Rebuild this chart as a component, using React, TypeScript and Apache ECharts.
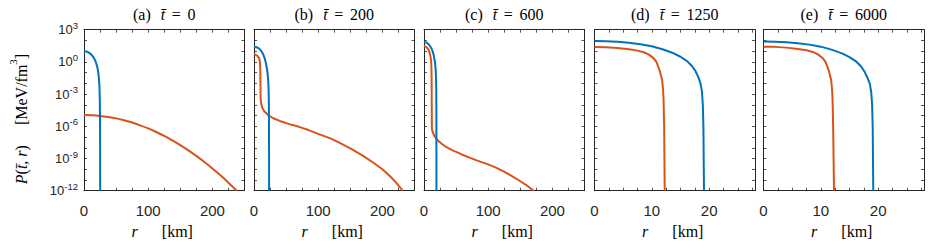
import React, { useEffect, useRef } from 'react';
import * as echarts from 'echarts';

// ---------- data (r in km, log10 of P in MeV/fm^3) ----------
const PANEL_TAGS = ['(a)', '(b)', '(c)', '(d)', '(e)'];
const PANEL_TIMES = ['0', '200', '600', '1250', '6000'];
const X_MAX = [250, 250, 250, 28, 28];
const X_TICK_STEP = [25, 25, 25, 2.5, 2.5];
const X_LABEL_STEP = [100, 100, 100, 10, 10];
const Y_MIN_EXP = -12;
const Y_MAX_EXP = 3;
const Y_LABEL_STEP = 3;

// (a) t = 0
const R_A_OR = [0, 12.5, 25, 37.5, 50, 62.5, 75, 87.5, 100, 112.5, 125, 137.5, 150, 162.5, 175, 187.5, 200, 212.5, 225, 238];
const LP_A_OR = [-4.95, -4.97, -5.03, -5.13, -5.26, -5.44, -5.65, -5.91, -6.2, -6.53, -6.9, -7.31, -7.75, -8.24, -8.76, -9.33, -9.93, -10.57, -11.25, -12];
const R_A_BL = [0, 4, 8, 11.5, 14.5, 17, 19, 20.8, 22.2, 23.3, 24.1, 24.6, 24.9, 25.1, 25.2];
const LP_A_BL = [1.0, 0.96, 0.85, 0.68, 0.45, 0.18, -0.12, -0.5, -0.95, -1.55, -2.4, -3.5, -5.2, -8, -12];

// (b) t = 200
const R_B_OR = [0, 3, 5.5, 7.5, 8.7, 9.4, 9.8, 10.0, 10.4, 11.5, 13, 16, 22, 30, 40, 55, 70, 85, 100, 120, 135, 150, 170, 186, 200, 212, 222, 231.5];
const LP_B_OR = [0.7, 0.64, 0.55, 0.4, 0.2, -0.1, -0.6, -1.8, -3.5, -3.95, -4.3, -4.6, -4.95, -5.25, -5.5, -5.8, -6.05, -6.35, -6.7, -7.15, -7.6, -8.05, -8.75, -9.4, -10.0, -10.65, -11.3, -12];
const R_B_BL = [0, 4, 8, 11.5, 14.5, 16.8, 18.5, 19.9, 21.1, 22.1, 22.8, 23.2, 23.4, 23.5];
const LP_B_BL = [1.42, 1.37, 1.23, 1.0, 0.68, 0.3, -0.1, -0.55, -1.05, -1.7, -2.6, -4, -7, -12];

// (c) t = 600
const R_C_OR = [0, 4, 7, 9, 10.3, 11.1, 11.6, 11.85, 12.0, 12.3, 13, 15, 17, 22, 28, 35, 43, 58, 70, 83, 98, 112, 124, 137, 150, 160, 170.7];
const LP_C_OR = [1.48, 1.38, 1.15, 0.85, 0.45, 0.0, -0.6, -1.6, -3.5, -6.2, -6.45, -6.75, -6.97, -7.35, -7.65, -7.95, -8.2, -8.6, -8.9, -9.2, -9.5, -9.85, -10.2, -10.65, -11.12, -11.5, -12];
const R_C_BL = [0, 4, 7, 9.5, 12, 14, 15.5, 16.7, 17.6, 18.3, 18.8, 19.1, 19.3, 19.4];
const LP_C_BL = [1.88, 1.8, 1.65, 1.47, 1.2, 0.88, 0.52, 0.12, -0.35, -0.9, -1.6, -2.6, -5, -12];

// (d) t = 1250
const R_D_OR = [0, 2, 4, 6, 7.5, 8.6, 9.5, 10.3, 10.8, 11.2, 11.5, 11.8, 11.95, 12.05, 12.15, 12.25];
const LP_D_OR = [1.39, 1.37, 1.3, 1.18, 1.05, 0.9, 0.68, 0.35, 0.0, -0.55, -1.05, -1.7, -2.5, -3.5, -6, -12];
const R_D_BL = [0, 2, 4, 6, 8, 10, 12, 13.8, 15, 16.2, 17, 17.6, 18.1, 18.5, 18.75, 18.9, 19.0, 19.1];
const LP_D_BL = [1.95, 1.93, 1.87, 1.78, 1.64, 1.45, 1.15, 0.8, 0.48, 0.05, -0.38, -0.85, -1.4, -2.0, -2.8, -4, -6, -12];

// (e) t = 6000
const R_E_OR = [0, 2, 4, 6, 7.5, 8.6, 9.5, 10.3, 10.8, 11.2, 11.5, 11.8, 11.95, 12.05, 12.15, 12.3];
const LP_E_OR = [1.42, 1.4, 1.33, 1.21, 1.08, 0.93, 0.7, 0.37, 0.02, -0.53, -1.03, -1.68, -2.5, -3.5, -6, -12];
const R_E_BL = [0, 2, 4, 6, 8, 10, 12, 13.8, 15, 16.2, 17, 17.6, 18.1, 18.55, 18.8, 18.95, 19.05, 19.15];
const LP_E_BL = [1.9, 1.88, 1.83, 1.74, 1.61, 1.42, 1.12, 0.77, 0.45, 0.02, -0.4, -0.88, -1.43, -2.05, -2.85, -4, -6, -12];

const ORANGE_R = [R_A_OR, R_B_OR, R_C_OR, R_D_OR, R_E_OR];
const ORANGE_LP = [LP_A_OR, LP_B_OR, LP_C_OR, LP_D_OR, LP_E_OR];
const BLUE_R = [R_A_BL, R_B_BL, R_C_BL, R_D_BL, R_E_BL];
const BLUE_LP = [LP_A_BL, LP_B_BL, LP_C_BL, LP_D_BL, LP_E_BL];

// ---------- styling / layout ----------
const BLUE = '#0072BD';
const ORANGE = '#D95319';
const AXIS = '#262626';
const SANS = 'Liberation Sans';
const SERIF = 'Liberation Serif';
const GRID_LEFT = [84, 254, 424, 594.5, 763.5];
const GRID_W = 160.5;
const GRID_TOP = 29.7;
const GRID_H = 161;

const TBAR = 't\u0304';

function buildOption() {
  const grid: any[] = [];
  const xAxis: any[] = [];
  const yAxis: any[] = [];
  const series: any[] = [];
  const graphic: any[] = [];

  const tick = { show: true, inside: true, length: 3, lineStyle: { color: AXIS, width: 0.8 } };
  const line = { show: true, onZero: false, lineStyle: { color: AXIS, width: 1 } };
  const serifRich = (size: number) => ({
    n: { fontFamily: SERIF, fontSize: size, fill: '#000' },
    i: { fontFamily: SERIF, fontSize: size, fontStyle: 'italic', fill: '#000' },
  });

  for (let i = 0; i < 5; i++) {
    grid.push({ left: GRID_LEFT[i], top: GRID_TOP, width: GRID_W, height: GRID_H, containLabel: false });
    const xStepLabel = X_LABEL_STEP[i];
    xAxis.push({
      type: 'value', gridIndex: i, position: 'bottom', min: 0, max: X_MAX[i], interval: X_TICK_STEP[i],
      axisLine: line, axisTick: tick, splitLine: { show: false },
      axisLabel: {
        show: true, margin: 12, fontFamily: SANS, fontSize: 15, color: AXIS,
        showMinLabel: true, showMaxLabel: true,
        formatter: (v: number) => (Math.abs(v / xStepLabel - Math.round(v / xStepLabel)) < 1e-9 ? String(v) : ''),
      },
    });
    xAxis.push({
      type: 'value', gridIndex: i, position: 'top', min: 0, max: X_MAX[i], interval: X_TICK_STEP[i],
      axisLine: line, axisTick: tick, splitLine: { show: false }, axisLabel: { show: false },
    });
    yAxis.push({
      type: 'value', gridIndex: i, position: 'left', min: Y_MIN_EXP, max: Y_MAX_EXP, interval: 1,
      axisLine: line, axisTick: tick, splitLine: { show: false },
      axisLabel: {
        show: i === 0, margin: 6, verticalAlign: 'middle',
        formatter: (v: number) => (v % Y_LABEL_STEP === 0 ? `{b|10}{s|${v}}` : ''),
        rich: {
          b: { fontFamily: SANS, fontSize: 13, color: AXIS, lineHeight: 13 },
          s: { fontFamily: SANS, fontSize: 9.5, color: AXIS, lineHeight: 9, padding: [0, 0, 9, 0] },
        },
      },
    });
    yAxis.push({
      type: 'value', gridIndex: i, position: 'right', min: Y_MIN_EXP, max: Y_MAX_EXP, interval: 1,
      axisLine: line, axisTick: tick, splitLine: { show: false }, axisLabel: { show: false },
    });

    series.push({
      type: 'line', xAxisIndex: 2 * i, yAxisIndex: 2 * i, showSymbol: false, symbol: 'none',
      smooth: i === 0 ? 0.3 : false, clip: true,
      lineStyle: { color: ORANGE, width: 2 }, itemStyle: { color: ORANGE },
      data: ORANGE_R[i].map((r, k) => [r, ORANGE_LP[i][k]]),
    });
    series.push({
      type: 'line', xAxisIndex: 2 * i, yAxisIndex: 2 * i, showSymbol: false, symbol: 'none',
      smooth: false, clip: true,
      lineStyle: { color: BLUE, width: 2 }, itemStyle: { color: BLUE },
      data: BLUE_R[i].map((r, k) => [r, BLUE_LP[i][k]]),
    });

    const cx = GRID_LEFT[i] + GRID_W / 2;
    graphic.push({
      type: 'text', x: cx, y: 14,
      style: {
        text: `{n|${PANEL_TAGS[i]}}   {i|${TBAR}}  {n|=}  {n|${PANEL_TIMES[i]}}`,
        align: 'center', verticalAlign: 'middle',
        rich: serifRich(16),
      },
    });
    graphic.push({
      type: 'text', x: cx - 2, y: 231,
      style: {
        text: `{i|r}{n|      [km]}`,
        align: 'center', verticalAlign: 'middle',
        rich: serifRich(16),
      },
    });
  }

  graphic.push({
    type: 'text', x: 18, y: 119, rotation: Math.PI / 2,
    style: {
      text: `{i|P}{n|(}{i|${TBAR}}{n|, }{i|r}{n|)     [MeV/fm}{s|3}{n|]}`,
      align: 'center', verticalAlign: 'middle',
      rich: {
        n: { fontFamily: SERIF, fontSize: 16, fill: '#000', lineHeight: 22, verticalAlign: 'bottom' },
        i: { fontFamily: SERIF, fontSize: 16, fontStyle: 'italic', fill: '#000', lineHeight: 22, verticalAlign: 'bottom' },
        s: { fontFamily: SERIF, fontSize: 11, fill: '#000', lineHeight: 11, verticalAlign: 'top' },
      },
    },
  });

  return {
    animation: false,
    backgroundColor: '#fff',
    grid, xAxis, yAxis, series, graphic,
  };
}

export default function App() {
  const ref = useRef<HTMLDivElement>(null);
  useEffect(() => {
    if (!ref.current) return;
    const chart = echarts.init(ref.current, undefined, { renderer: 'svg' });
    chart.setOption(buildOption() as any);
    return () => chart.dispose();
  }, []);
  return <div ref={ref} style={{ position: 'absolute', left: 0, top: 0, width: 934, height: 248 }} />;
}
